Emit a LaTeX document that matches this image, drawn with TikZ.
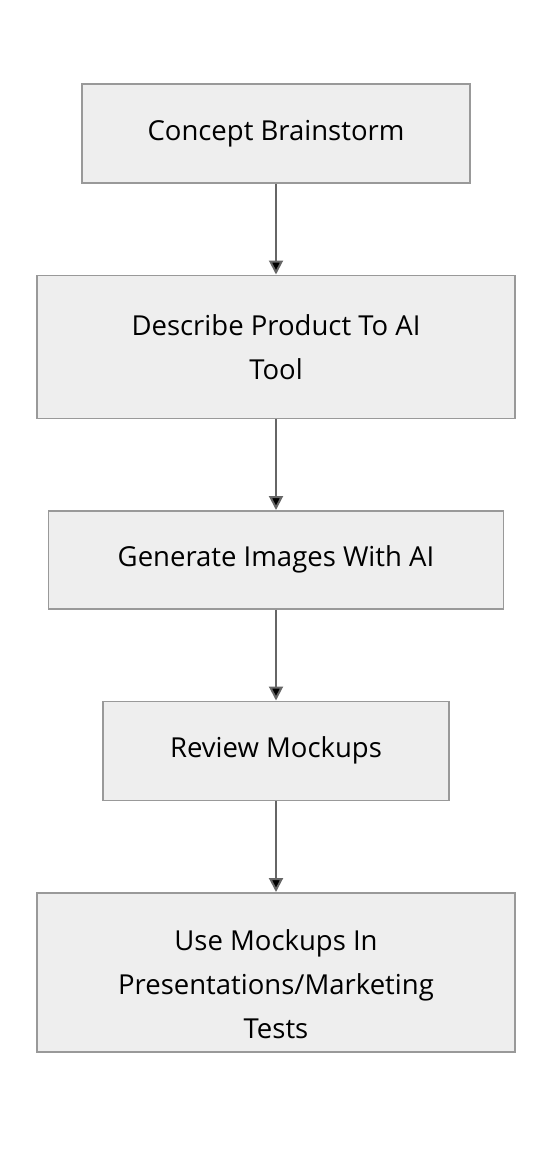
\documentclass[tikz,border=0pt]{standalone}
\usepackage{fontspec}
\setmainfont{Open Sans}
\usetikzlibrary{positioning,arrows.meta}

\definecolor{boxfill}{HTML}{EEEEEE}
\definecolor{boxline}{HTML}{999999}
\definecolor{arrowgray}{HTML}{666666}

\tikzset{
  stepbox/.style={draw=boxline, fill=boxfill, line width=1.5pt, inner sep=0pt,
    align=center, font=\fontsize{27.5}{44}\selectfont},
  flow/.style={draw=arrowgray, line width=2pt, -{Triangle[width=14pt,length=14pt]}}
}

\begin{document}
\begin{tikzpicture}[x=1pt, y=1pt, node distance=91pt]
\useasboundingbox (0,0) rectangle (552,-1164);
\node [stepbox, minimum width=388pt, minimum height=99pt, anchor=north] (brainstorm) at (276,-83) {Concept Brainstorm};
\node [stepbox, minimum width=478pt, minimum height=143pt] (describe) [below = of brainstorm] {Describe Product To AI\\Tool};
\node [stepbox, minimum width=455pt, minimum height=98pt] (generate) [below = of describe] {Generate Images With AI};
\node [stepbox, minimum width=346pt, minimum height=99pt] (review) [below = of generate] {Review Mockups};
\node [stepbox, minimum width=478pt, minimum height=159pt, text height=138pt, text depth=6pt] (use) [below = of review] {Use Mockups In\\Presentations/Marketing\\Tests};
\path [flow] (brainstorm) edge (describe)
  (describe) edge (generate)
  (generate) edge (review)
  (review) edge (use);
\end{tikzpicture}
\end{document}
